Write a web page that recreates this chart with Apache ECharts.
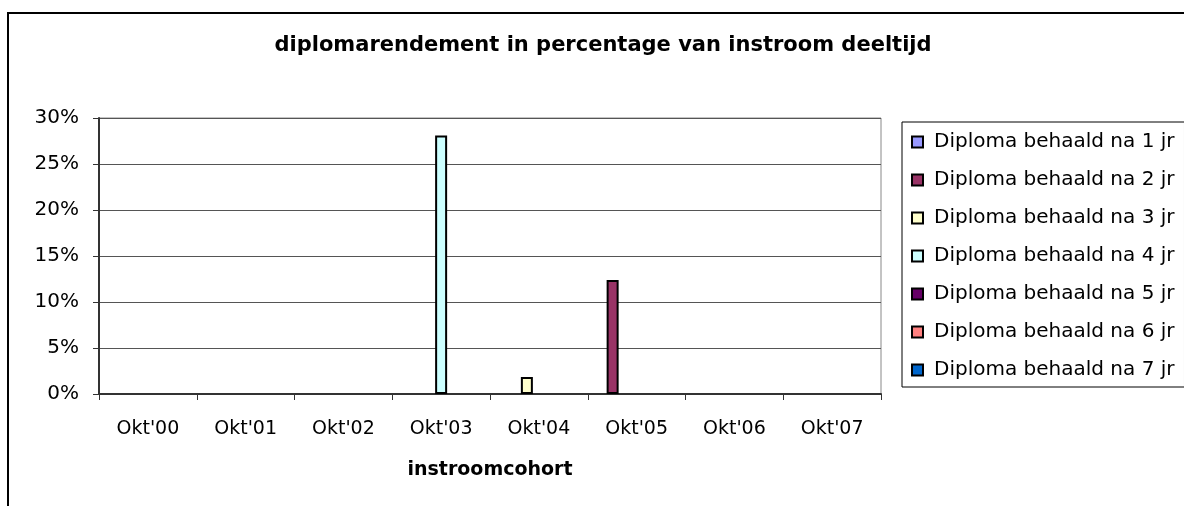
<!DOCTYPE html>
<html>
<head>
<meta charset="utf-8">
<script src="https://cdn.jsdelivr.net/npm/echarts@6/dist/echarts.min.js"></script>
<style>
html,body{margin:0;padding:0;background:#fff;}
#chart{width:1184px;height:506px;}
</style>
</head>
<body>
<div id="chart"></div>
<script>
const categories = ["Okt'00","Okt'01","Okt'02","Okt'03","Okt'04","Okt'05","Okt'06","Okt'07"];
const seriesNames = ["Diploma behaald na 1 jr","Diploma behaald na 2 jr","Diploma behaald na 3 jr","Diploma behaald na 4 jr","Diploma behaald na 5 jr","Diploma behaald na 6 jr","Diploma behaald na 7 jr"];
const na1jr = [null,null,null,null,null,null,null,null];
const na2jr = [null,null,null,null,null,0.124,null,null];
const na3jr = [null,null,null,null,0.0185,null,null,null];
const na4jr = [null,null,null,0.281,null,null,null,null];
const na5jr = [null,null,null,null,null,null,null,null];
const na6jr = [null,null,null,null,null,null,null,null];
const na7jr = [null,null,null,null,null,null,null,null];
const seriesValues = [na1jr,na2jr,na3jr,na4jr,na5jr,na6jr,na7jr];
const colors = ['#9999FF','#993366','#FFFFCC','#CCFFFF','#660066','#FF8080','#0066CC'];
const yTicks = [0,0.05,0.10,0.15,0.20,0.25,0.30];

const FONT = 'DejaVu Sans';
const chart = echarts.init(document.getElementById('chart'), null, {renderer:'canvas'});
chart.setOption({
  animation:false,
  backgroundColor:'#fff',
  color: colors,
  title:{
    text:'diplomarendement in percentage van instroom deeltijd',
    left:603, top:35, textAlign:'center', padding:0,
    textStyle:{fontFamily:FONT, fontWeight:'bold', fontSize:21, color:'#000'}
  },
  graphic:[{
    type:'rect', z:-1, silent:true,
    shape:{x:8, y:13, width:1300, height:600},
    style:{fill:null, stroke:'#000', lineWidth:2}
  }],
  legend:{
    orient:'vertical', left:902, top:122,
    padding:[10,10,7,9], itemGap:18, itemWidth:11, itemHeight:11,
    borderColor:'#000', borderWidth:1, backgroundColor:'#fff',
    icon:'rect',
    textStyle:{fontFamily:FONT, fontSize:20, color:'#000', padding:[0,0,0,6]},
    data: seriesNames
  },
  grid:{left:99, right:303, top:118, bottom:112, show:true, borderColor:'#888', borderWidth:1, containLabel:false},
  xAxis:{
    type:'category', data:categories,
    name:'instroomcohort', nameLocation:'middle', nameGap:67,
    nameTextStyle:{fontFamily:FONT, fontWeight:'bold', fontSize:19, color:'#000'},
    axisLine:{lineStyle:{color:'#333', width:2}},
    axisTick:{show:true, length:6, inside:false, lineStyle:{color:'#333', width:1}},
    axisLabel:{fontFamily:FONT, fontSize:19, color:'#000', margin:26, interval:0},
    splitLine:{show:false}
  },
  yAxis:{
    type:'value', min:0, max:0.3, interval:0.05,
    axisLine:{show:true, lineStyle:{color:'#333', width:2}},
    axisTick:{show:true, length:6, lineStyle:{color:'#333', width:1}},
    axisLabel:{fontFamily:FONT, fontSize:20, color:'#000', margin:20,
      formatter:function(v){ return Math.round(v*100)+'%'; }},
    splitLine:{show:true, lineStyle:{color:'#555', width:1}}
  },
  series: seriesNames.map(function(n,i){
    return {
      name:n, type:'bar', data:seriesValues[i],
      barGap:'0%', barWidth:12,
      itemStyle:{color:colors[i], borderColor:'#000', borderWidth:2}
    };
  })
});
</script>
</body>
</html>
